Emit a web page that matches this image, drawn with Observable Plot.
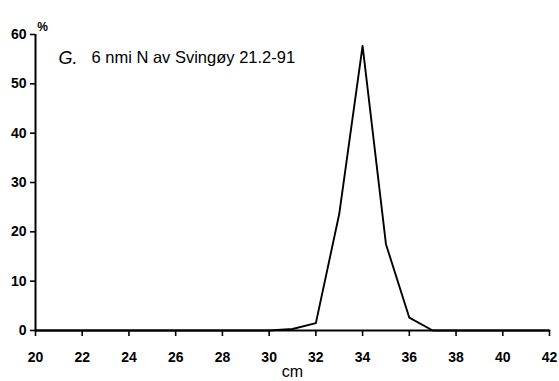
<!DOCTYPE html>
<html>
<head>
<meta charset="utf-8">
<script src="https://cdn.jsdelivr.net/npm/d3@7"></script>
<script src="https://cdn.jsdelivr.net/npm/@observablehq/plot@0.6"></script>
<style>
  html, body { margin: 0; padding: 0; background: #fff; }
  #chart { position: relative; width: 559px; height: 381px; }
  svg { font-family: "Liberation Sans", Arial, sans-serif; }
</style>
</head>
<body>
<div id="chart"></div>
<script>
const lengthsCm = [20,21,22,23,24,25,26,27,28,29,30,31,32,33,34,35,36,37,38,39,40,41,42];
const percent   = [0,0,0,0,0,0,0,0,0,0,0,0.3,1.5,23.6,57.7,17.5,2.6,0,0,0,0,0,0];
const xTicks = [20,22,24,26,28,30,32,34,36,38,40,42];
const yTicks = [0,10,20,30,40,50,60];
const titleLetter = "G.";
const titleText = "6 nmi N av Svingøy 21.2-91";
const yUnit = "%";
const xLabel = "cm";

const data = lengthsCm.map((x, i) => ({x, y: percent[i]}));

const chart = Plot.plot({
  width: 559,
  height: 381,
  marginLeft: 35,
  marginRight: 10,
  marginTop: 34,
  marginBottom: 51,
  style: {color: "#000", background: "#fff"},
  x: {domain: [20, 42], label: null},
  y: {domain: [0, 60], label: null},
  marks: [
    Plot.axisX({ticks: xTicks, tickSize: 6, tickPadding: 16, strokeWidth: 1.6, fontSize: 14, fontWeight: "bold"}),
    Plot.axisY({ticks: yTicks, tickSize: 5, tickPadding: 4, strokeWidth: 1.6, fontSize: 14, fontWeight: "bold"}),
    Plot.ruleY([0], {stroke: "#000", strokeWidth: 2}),
    Plot.ruleX([20], {stroke: "#000", strokeWidth: 2}),
    Plot.line(data, {x: "x", y: "y", stroke: "#000", strokeWidth: 1.9}),
    Plot.text([yUnit], {frameAnchor: "top-left", dx: 7, dy: -12, fontSize: 12, fontWeight: "bold", textAnchor: "middle"}),
    Plot.text([titleLetter], {frameAnchor: "top-left", dx: 23, dy: 16.5, fontSize: 18, fontStyle: "italic", textAnchor: "start"}),
    Plot.text([titleText], {frameAnchor: "top-left", dx: 56, dy: 16.5, fontSize: 16.5, textAnchor: "start"}),
    Plot.text([xLabel], {frameAnchor: "bottom", dy: 46, fontSize: 16, lineAnchor: "bottom"})
  ]
});
document.getElementById("chart").appendChild(chart);
</script>
</body>
</html>
